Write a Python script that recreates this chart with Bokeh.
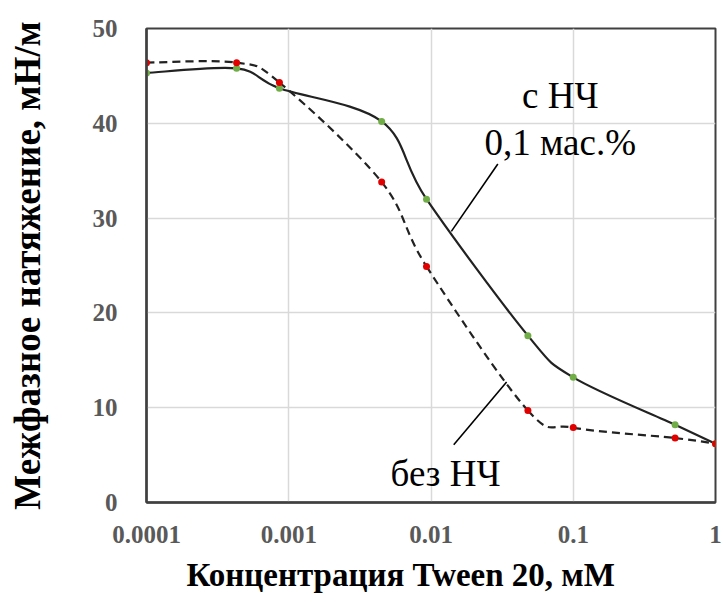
import numpy as np
from bokeh.plotting import figure
from bokeh.models import FixedTicker, Label, Title, ColumnDataSource
from bokeh.embed import file_html
from bokeh.resources import INLINE

# Data
conc = [0.0001, 0.00043, 0.00086, 0.0045, 0.0093, 0.048, 0.1, 0.52, 1.0]
with_np = [45.3, 45.8, 43.7, 40.2, 32.0, 17.6, 13.2, 8.2, 6.2]
without_np = [46.4, 46.4, 44.3, 33.8, 24.9, 9.7, 7.9, 6.8, 6.2]
x_ticks = [0.0001, 0.001, 0.01, 0.1, 1.0]
x_tick_labels = ["0.0001", "0.001", "0.01", "0.1", "1"]
y_ticks = [0, 10, 20, 30, 40, 50]

SERIF = "'Liberation Serif', 'Times New Roman', 'DejaVu Serif', serif"


def smooth_segments(xs, ys):
    """Bezier control points (Catmull-Rom style, like a spreadsheet's smoothed line),
    computed in log-x / linear-y space, which is proportional to screen space."""
    lx = np.log10(np.asarray(xs, float))
    yy = np.asarray(ys, float)
    n = len(lx)
    d = dict(x0=[], y0=[], x1=[], y1=[], cx0=[], cy0=[], cx1=[], cy1=[])
    for i in range(n - 1):
        ip, inn = max(i - 1, 0), min(i + 2, n - 1)
        c0x = lx[i] + (lx[i + 1] - lx[ip]) / 6.0
        c0y = yy[i] + (yy[i + 1] - yy[ip]) / 6.0
        c1x = lx[i + 1] - (lx[inn] - lx[i]) / 6.0
        c1y = yy[i + 1] - (yy[inn] - yy[i]) / 6.0
        d["x0"].append(10 ** lx[i]); d["y0"].append(yy[i])
        d["x1"].append(10 ** lx[i + 1]); d["y1"].append(yy[i + 1])
        d["cx0"].append(10 ** c0x); d["cy0"].append(c0y)
        d["cx1"].append(10 ** c1x); d["cy1"].append(c1y)
    return ColumnDataSource(d)


p = figure(width=723, height=602, x_axis_type="log",
           x_range=(0.0001, 1.0), y_range=(0, 50),
           output_backend="svg", toolbar_location=None,
           min_border_left=146, min_border_right=8, min_border_top=28,
           min_border_bottom=100)

pts = ColumnDataSource(dict(x=conc, a=with_np, b=without_np))

p.bezier("x0", "y0", "x1", "y1", "cx0", "cy0", "cx1", "cy1",
         source=smooth_segments(conc, without_np),
         line_color="#222222", line_width=2.2, line_dash="8 5")
p.bezier("x0", "y0", "x1", "y1", "cx0", "cy0", "cx1", "cy1",
         source=smooth_segments(conc, with_np),
         line_color="#222222", line_width=2.2)
p.scatter("x", "a", source=pts, size=7, fill_color="#70ad47", line_color=None)
p.scatter("x", "b", source=pts, size=7, fill_color="#e00000", line_color=None)

# annotations
p.segment(x0=[0.0295, 0.034], y0=[35.7, 12.7], x1=[0.0139, 0.01445], y1=[28.6, 6.1],
          line_color="black", line_width=1.6)
for txt, xx, yy in [("с НЧ", 0.081, 42.9), ("0,1 мас.%", 0.081, 38.0), ("без НЧ", 0.01265, 3.06)]:
    p.add_layout(Label(x=xx, y=yy, text=txt, text_font=SERIF, text_font_size="37px",
                       text_align="center", text_baseline="middle", text_color="black"))

# axes
p.xaxis.ticker = FixedTicker(ticks=x_ticks)
p.xaxis.major_label_overrides = dict(zip(x_ticks, x_tick_labels))
p.yaxis.ticker = FixedTicker(ticks=y_ticks)
for ax in (p.xaxis, p.yaxis):
    ax.major_label_text_font = SERIF
    ax.major_label_text_font_style = "bold"
    ax.major_label_text_font_size = "25px"
    ax.major_label_text_color = "#595959"
    ax.major_tick_line_color = None
    ax.minor_tick_line_color = None
    ax.axis_line_color = "#404040"
    ax.axis_line_width = 2.5
p.yaxis.major_label_standoff = 23
p.xaxis.major_label_standoff = 17

p.yaxis.axis_label = "Межфазное натяжение, мН/м"
p.yaxis.axis_label_text_font = SERIF
p.yaxis.axis_label_text_font_style = "bold"
p.yaxis.axis_label_text_font_size = "37px"
p.yaxis.axis_label_text_color = "black"
p.yaxis.axis_label_standoff = 42

p.add_layout(Title(text="Концентрация Tween 20, мМ", text_font=SERIF, text_font_style="bold",
                   text_font_size="33px", text_color="black", align="left", offset=40,
                   standoff=19), "below")

p.xgrid.grid_line_color = "#d9d9d9"
p.ygrid.grid_line_color = "#d9d9d9"
p.xgrid.grid_line_width = 1.5
p.ygrid.grid_line_width = 1.5
p.outline_line_color = "#404040"
p.outline_line_width = 2
p.outline_line_alpha = 1

open("out.html", "w").write(file_html(p, INLINE))
